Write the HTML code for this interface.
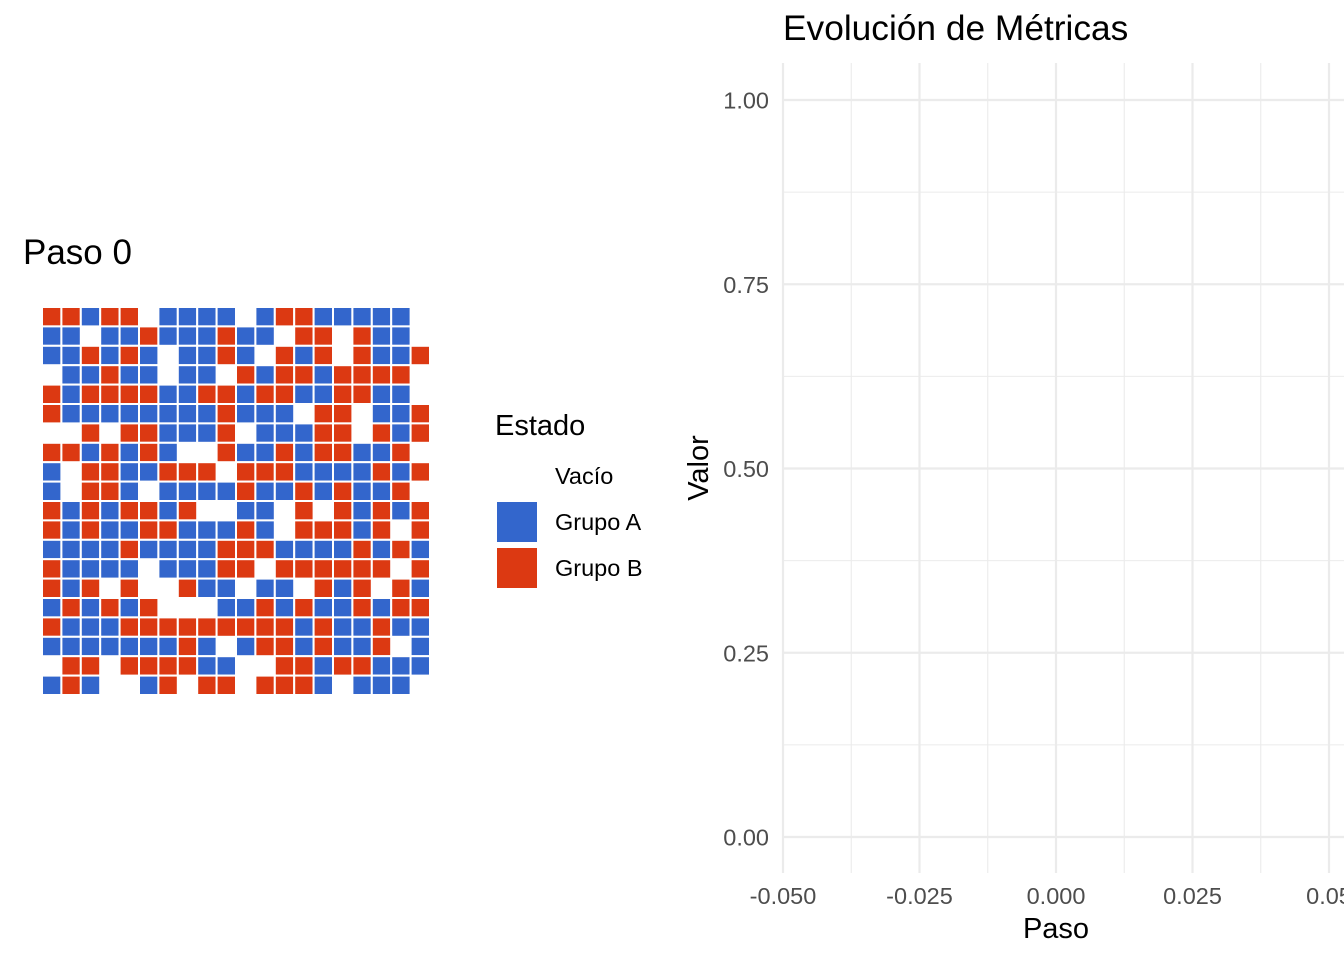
<!DOCTYPE html>
<html><head><meta charset="utf-8"><style>
html,body{margin:0;padding:0;background:#fff;}
svg{display:block;font-family:"Liberation Sans",sans-serif;}
</style></head><body>
<svg id="root" width="1344" height="960" viewBox="0 0 1344 960">
<rect width="1344" height="960" fill="#fff"/>
<text x="23" y="264" font-size="35" fill="#000">Paso 0</text>
<g id="grid"></g>
<g>
<text x="495" y="435" font-size="29" fill="#000">Estado</text>
<text x="555" y="484" font-size="23.5" fill="#000">Vacío</text>
<rect x="497" y="502" width="40" height="40" fill="#3366CC"/>
<text x="555" y="530" font-size="23.5" fill="#000">Grupo A</text>
<rect x="497" y="548" width="40" height="40" fill="#DC3912"/>
<text x="555" y="576" font-size="23.5" fill="#000">Grupo B</text>
</g>
<text x="783" y="40" font-size="35.3" fill="#000">Evolución de Métricas</text>
<g id="plot"></g>
<text x="1056" y="938" font-size="29" text-anchor="middle" fill="#000">Paso</text>
<text transform="translate(708,468) rotate(-90)" font-size="29" text-anchor="middle" fill="#000">Valor</text>
</svg>
<script>
const gridRows = [
"RRBRR.BBBB.BRRBBBBB.",
"BB.BBRBBBRBB.RR.RBB.",
"BBRBRB.BBRB.RBR.RBBR",
".BBRBB.BB.RBRRBRRRR.",
"RBRRRRBBRRBRRBBRRBB.",
"RBBBBBBBBRBBB.RR.BBR",
"..R.RRBBBR.BBBRR.RBR",
"RRBRBRB..RBBRBRRBBR.",
"B.RRBBRRR.RRRBBBBRBR",
"B.RRB.BBBBRBBRBRBBR.",
"RBRBRRBR..BB.R.RBRBR",
"RBRBBRRBBBRB.RRRBR.R",
"BBBBRBBBBRRRBBBBRBRB",
"RBBBB.BBBRR.RRRRRR.R",
"RBR.R..RBB.BB.RBR.RB",
"BRBRBR...BBRBRBBRBRR",
"RBBBRRRRRRRRRBRBBRBB",
"BBBBBBBRB.BRRBRBBR.B",
".RR.RRRRBB..RRBRRBBB",
"BRB..BR.RR.RRRB.BBB."
];
const xTicks = [-0.05,-0.025,0,0.025,0.05];
const xTickLabels = ["-0.050","-0.025","0.000","0.025","0.05"];
const yTicks = [0,0.25,0.5,0.75,1];
const yTickLabels = ["0.00","0.25","0.50","0.75","1.00"];
const NS="http://www.w3.org/2000/svg";
const grid=document.getElementById('grid');
const x0=42,y0=307,pitch=19.4;
gridRows.forEach((row,r)=>{
  [...row].forEach((c,col)=>{
    if(c==='.')return;
    const t=document.createElementNS(NS,'rect');
    t.setAttribute('x',x0+col*pitch);t.setAttribute('y',y0+r*pitch);
    t.setAttribute('width',pitch);t.setAttribute('height',pitch);
    t.setAttribute('fill',c==='B'?'#3366CC':'#DC3912');
    t.setAttribute('stroke','#fff');t.setAttribute('stroke-width','2');
    
    
    grid.appendChild(t);
  });
});
const plot=document.getElementById('plot');
const sx=v=>1056+v*(1329-783)/0.1;
const sy=v=>837-v*(837-100);
function line(x1,y1,x2,y2,w){const l=document.createElementNS(NS,'line');l.setAttribute('x1',x1);l.setAttribute('y1',y1);l.setAttribute('x2',x2);l.setAttribute('y2',y2);l.setAttribute('stroke','#ebebeb');l.setAttribute('stroke-width',w);


plot.appendChild(l);}
for(let i=0;i<yTicks.length-1;i++){const m=(yTicks[i]+yTicks[i+1])/2;line(783,sy(m),1344,sy(m),1.1);}
for(let i=0;i<xTicks.length-1;i++){const m=(xTicks[i]+xTicks[i+1])/2;line(sx(m),63,sx(m),873,1.1);}
yTicks.forEach(v=>line(783,sy(v),1344,sy(v),2.2));
xTicks.forEach(v=>line(sx(v),63,sx(v),873,2.2));
function txt(x,y,s,anchor){const t=document.createElementNS(NS,'text');t.setAttribute('x',x);t.setAttribute('y',y);t.setAttribute('font-size','23.5');t.setAttribute('fill','#4d4d4d');t.setAttribute('text-anchor',anchor);t.textContent=s;


plot.appendChild(t);}
yTicks.forEach((v,i)=>txt(769,sy(v)+8.5,yTickLabels[i],'end'));
xTicks.forEach((v,i)=>txt(sx(v),904,xTickLabels[i],'middle'));
</script>
</body></html>
